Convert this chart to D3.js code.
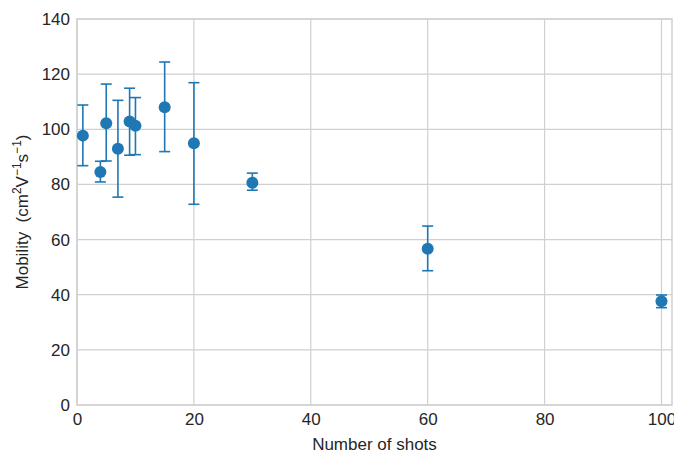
<!DOCTYPE html>
<html>
<head>
<meta charset="utf-8">
<script src="https://cdn.jsdelivr.net/npm/d3@7"></script>
<style>
  body { margin: 0; background: #fff; }
  svg text { font-family: "Liberation Sans", Arial, sans-serif; fill: #262626; }
</style>
</head>
<body>
<svg id="chart"></svg>
<script>
// data
const shots = [1, 4, 5, 7, 9, 10, 15, 20, 30, 60, 100];
const mobility = [97.7, 84.5, 102.2, 92.9, 102.8, 101.3, 108.0, 94.9, 80.6, 56.7, 37.6];
const errLow = [86.8, 80.9, 88.5, 75.4, 90.6, 90.8, 91.9, 72.8, 77.9, 48.7, 35.3];
const errHigh = [108.8, 88.4, 116.4, 110.5, 114.9, 111.5, 124.4, 116.9, 84.1, 64.9, 39.9];
const xTicks = [0, 20, 40, 60, 80, 100];
const yTicks = [0, 20, 40, 60, 80, 100, 120, 140];

const WIDTH = 674;
const HEIGHT = 452;
const PADDING = { LEFT: 77, RIGHT: 2, TOP: 19, BOTTOM: 47 };
const COLOR = "#1f77b4";
const GRID = "#d0d0d0";
const FONT = "17px";

let svg = d3.select("#chart")
  .attr("width", WIDTH)
  .attr("height", HEIGHT);

let xScale = d3.scaleLinear()
  .domain([0, 101.8])
  .range([PADDING.LEFT, WIDTH - PADDING.RIGHT]);
let yScale = d3.scaleLinear()
  .domain([0, 140])
  .range([HEIGHT - PADDING.BOTTOM, PADDING.TOP]);

// grid lines
svg.append("g")
  .selectAll("line")
  .data(xTicks)
  .enter()
  .append("line")
    .attr("x1", d => xScale(d))
    .attr("x2", d => xScale(d))
    .attr("y1", yScale(0))
    .attr("y2", yScale(140))
    .attr("stroke", GRID)
    .attr("stroke-width", 1.2);

svg.append("g")
  .selectAll("line")
  .data(yTicks)
  .enter()
  .append("line")
    .attr("x1", xScale(0))
    .attr("x2", xScale(101.8))
    .attr("y1", d => yScale(d))
    .attr("y2", d => yScale(d))
    .attr("stroke", GRID)
    .attr("stroke-width", 1.2);

// frame
svg.append("rect")
  .attr("x", xScale(0))
  .attr("y", yScale(140))
  .attr("width", xScale(101.8) - xScale(0))
  .attr("height", yScale(0) - yScale(140))
  .attr("fill", "none")
  .attr("stroke", GRID)
  .attr("stroke-width", 1.5);

// axes (labels only)
let xAxis = svg.append("g")
  .attr("transform", `translate(0,${yScale(0)})`)
  .call(d3.axisBottom(xScale).tickValues(xTicks).tickSize(0).tickPadding(8));
let yAxis = svg.append("g")
  .attr("transform", `translate(${xScale(0)},0)`)
  .call(d3.axisLeft(yScale).tickValues(yTicks).tickSize(0).tickPadding(7));
[xAxis, yAxis].forEach(function(ax) {
  ax.select(".domain").remove();
  ax.selectAll("text")
    .style("font-size", FONT)
    .style("font-family", "'Liberation Sans', Arial, sans-serif")
    .attr("fill", "#262626");
});

// error bars
let points = shots.map((s, i) => ({ x: s, y: mobility[i], lo: errLow[i], hi: errHigh[i] }));
let bars = svg.append("g")
  .selectAll("g")
  .data(points)
  .enter()
  .append("g")
    .attr("stroke", COLOR)
    .attr("stroke-width", 1.6);

bars.append("line")
  .attr("x1", d => xScale(d.x))
  .attr("x2", d => xScale(d.x))
  .attr("y1", d => yScale(d.lo))
  .attr("y2", d => yScale(d.hi));
bars.append("line")
  .attr("x1", d => xScale(d.x) - 5.5)
  .attr("x2", d => xScale(d.x) + 5.5)
  .attr("y1", d => yScale(d.lo))
  .attr("y2", d => yScale(d.lo));
bars.append("line")
  .attr("x1", d => xScale(d.x) - 5.5)
  .attr("x2", d => xScale(d.x) + 5.5)
  .attr("y1", d => yScale(d.hi))
  .attr("y2", d => yScale(d.hi));

// markers
svg.append("g")
  .selectAll("circle")
  .data(points)
  .enter()
  .append("circle")
    .attr("cx", d => xScale(d.x))
    .attr("cy", d => yScale(d.y))
    .attr("r", 6)
    .attr("fill", COLOR);

// axis titles
svg.append("text")
  .attr("x", (xScale(0) + xScale(101.8)) / 2)
  .attr("y", 450)
  .attr("text-anchor", "middle")
  .style("font-size", FONT)
  .text("Number of shots");

let yTitle = svg.append("text")
  .attr("transform", `translate(28,${(yScale(0) + yScale(140)) / 2}) rotate(-90)`)
  .attr("text-anchor", "middle")
  .style("font-size", FONT);
yTitle.append("tspan").text("Mobility\u00a0\u00a0(cm");
yTitle.append("tspan").attr("dy", -7).style("font-size", "12px").text("2");
yTitle.append("tspan").attr("dy", 7).text("V");
yTitle.append("tspan").attr("dy", -7).style("font-size", "12px").text("\u22121");
yTitle.append("tspan").attr("dy", 7).text("s");
yTitle.append("tspan").attr("dy", -7).style("font-size", "12px").text("\u22121");
yTitle.append("tspan").attr("dy", 7).text(")");
</script>
</body>
</html>
